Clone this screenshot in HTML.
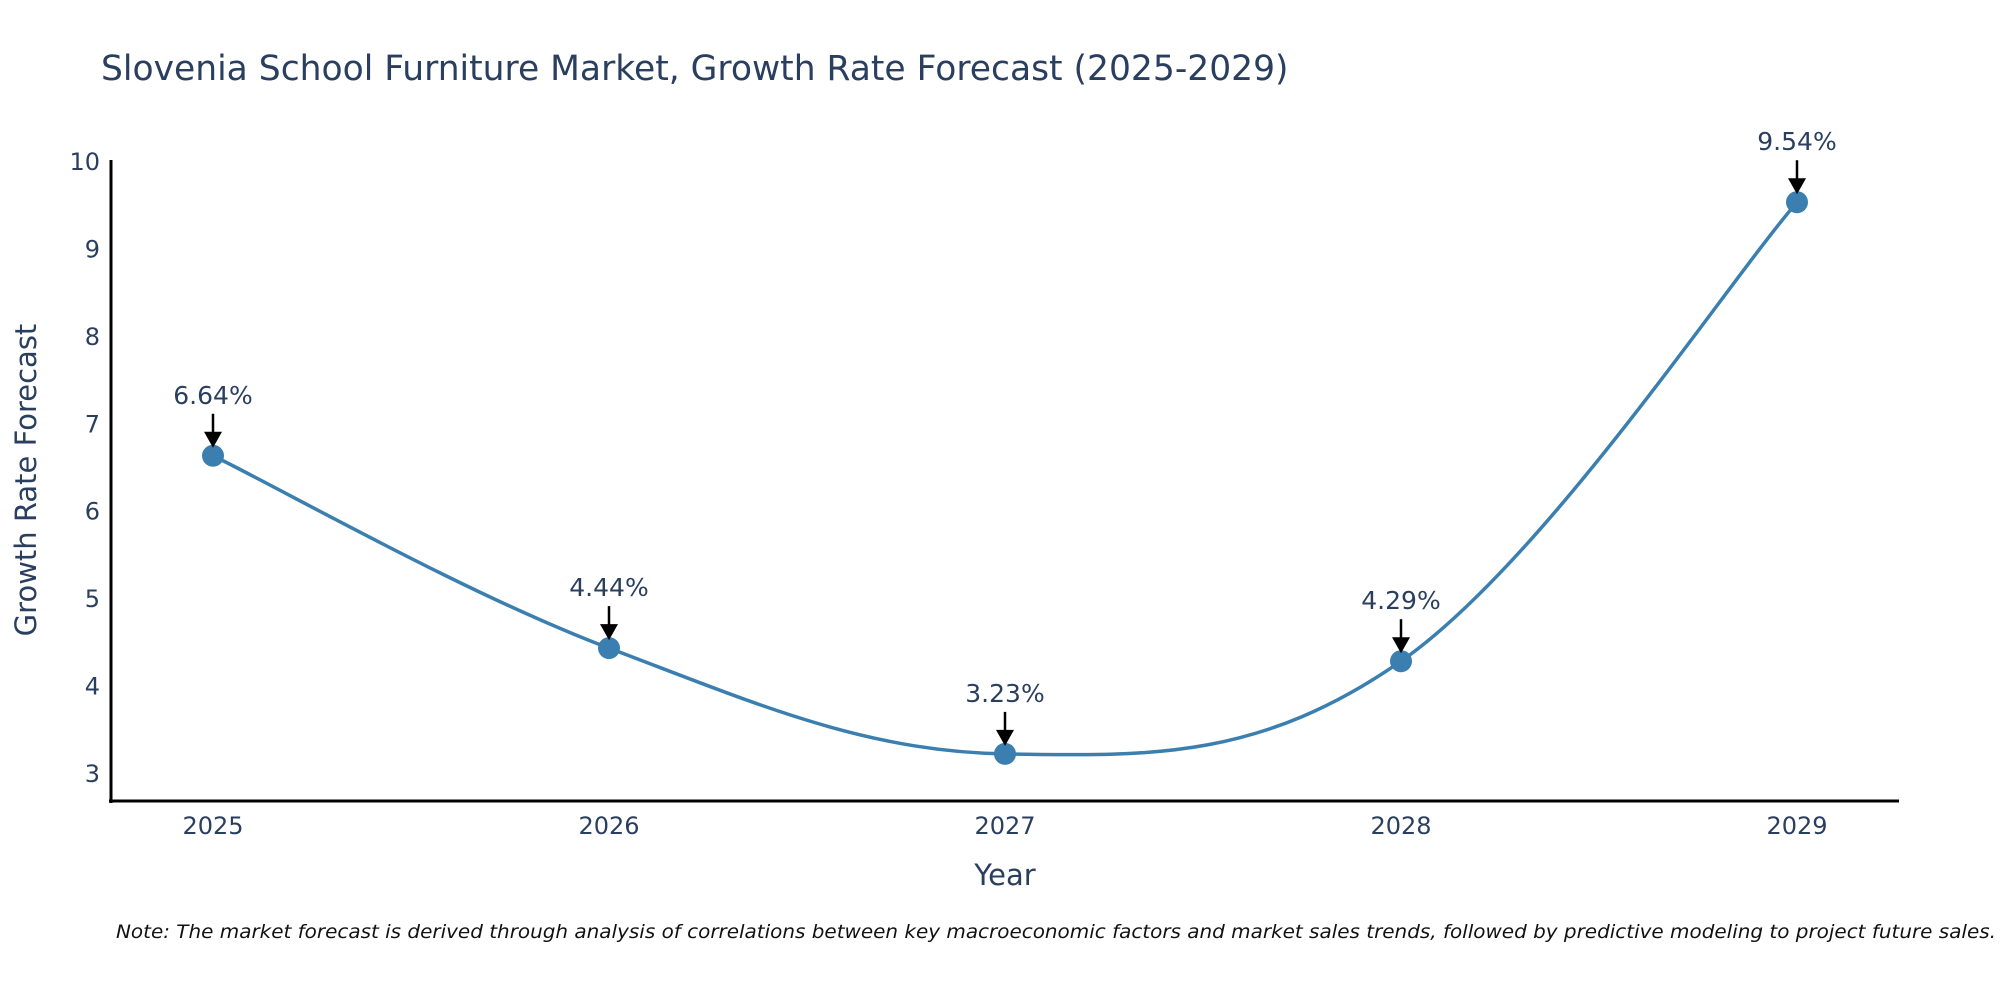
<!DOCTYPE html>
<html><head><meta charset="utf-8"><style>
html,body{margin:0;padding:0;background:#fff;}
svg text{font-family:"DejaVu Sans","Liberation Sans",sans-serif;}
</style></head><body>
<svg id="chart" width="2000" height="1000" xmlns="http://www.w3.org/2000/svg">
<rect width="2000" height="1000" fill="#fff"/>
<text x="101" y="80" font-size="34.5" fill="#2a3f5f">Slovenia School Furniture Market, Growth Rate Forecast (2025-2029)</text>
<g id="plot"></g>
<line x1="111" y1="160" x2="111" y2="803" stroke="#000" stroke-width="3"/>
<line x1="109" y1="801" x2="1899" y2="801" stroke="#000" stroke-width="3"/>
<text transform="translate(36,480) rotate(-90)" text-anchor="middle" font-size="29" fill="#2a3f5f">Growth Rate Forecast</text>
<text x="1005" y="885" text-anchor="middle" font-size="29" fill="#2a3f5f">Year</text>
<text x="116" y="938" font-size="19" font-style="italic" fill="#111" textLength="1880" lengthAdjust="spacingAndGlyphs">Note: The market forecast is derived through analysis of correlations between key macroeconomic factors and market sales trends, followed by predictive modeling to project future sales.</text>
</svg>
<script>
const years = ["2025","2026","2027","2028","2029"];
const values = [6.64, 4.44, 3.23, 4.29, 9.54];
const labels = ["6.64%","4.44%","3.23%","4.29%","9.54%"];
const yTicks = [3,4,5,6,7,8,9,10];

const NS = "http://www.w3.org/2000/svg";
const g = document.getElementById('plot');
function xs(i){ return 213 + i*396; }
function ys(v){ return 774 - (v-3)*87.43; }
function mk(tag, attrs){ const e=document.createElementNS(NS,tag); for(const k in attrs) e.setAttribute(k,attrs[k]); g.appendChild(e); return e; }

yTicks.forEach(t=>{
  const e = mk('text',{x:100,y:ys(t)+8,'text-anchor':'end','font-size':24,fill:'#2a3f5f'});
  e.textContent = t;
  
  
});
years.forEach((y,i)=>{
  const e = mk('text',{x:xs(i),y:834,'text-anchor':'middle','font-size':24,fill:'#2a3f5f'});
  e.textContent = y;
  
  
});

const pts = values.map((v,i)=>[xs(i), ys(v)]);
let d = `M${pts[0][0]},${pts[0][1]}`;
const s = 0.18;
for(let i=0;i<pts.length-1;i++){
  const p0=pts[Math.max(0,i-1)], p1=pts[i], p2=pts[i+1], p3=pts[Math.min(pts.length-1,i+2)];
  const c1=[p1[0]+(p2[0]-p0[0])*s, p1[1]+(p2[1]-p0[1])*s];
  const c2=[p2[0]-(p3[0]-p1[0])*s, p2[1]-(p3[1]-p1[1])*s];
  d += ` C${c1[0]},${c1[1]} ${c2[0]},${c2[1]} ${p2[0]},${p2[1]}`;
}
const line = mk('path',{d:d,fill:'none',stroke:'#3a7fb0','stroke-width':3.5});



pts.forEach((p,i)=>{
  const c = mk('circle',{cx:p[0],cy:p[1],r:11,fill:'#3a7fb0'});
  
  
  const a = mk('line',{x1:p[0],y1:p[1]-42,x2:p[0],y2:p[1]-20,stroke:'#000','stroke-width':2.5});
  
  
  const h = mk('polygon',{points:`${p[0]-9},${p[1]-24} ${p[0]+9},${p[1]-24} ${p[0]},${p[1]-8}`,fill:'#000'});
  
  
  const t = mk('text',{x:p[0],y:p[1]-52,'text-anchor':'middle','font-size':25,fill:'#2a3f5f'});
  t.textContent = labels[i];
  
  
});
</script>
</body></html>
